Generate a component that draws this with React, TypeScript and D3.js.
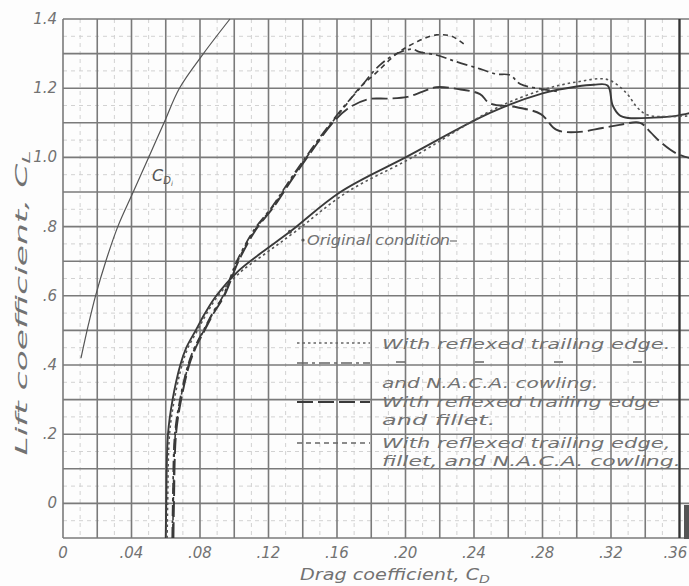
import React from "react";
import * as d3 from "d3";

// drag coefficient (CD) / lift coefficient (CL) pairs
const cdiCd = [0.0105, 0.015, 0.019, 0.025, 0.032, 0.041, 0.05, 0.059, 0.068, 0.082, 0.0975];
const cdiCl = [0.42, 0.52, 0.6, 0.7, 0.8, 0.9, 1.0, 1.1, 1.2, 1.3, 1.4];

const originalCd = [0.06, 0.0603, 0.0613, 0.064, 0.0685, 0.072, 0.0775, 0.083, 0.0895, 0.102, 0.116, 0.1325, 0.162, 0.2, 0.25, 0.28, 0.3, 0.31, 0.318, 0.321, 0.325, 0.33, 0.345, 0.358, 0.366];
const originalCl = [-0.1, 0.0, 0.2, 0.3, 0.4, 0.45, 0.5, 0.55, 0.6, 0.67, 0.725, 0.785, 0.9, 1.0, 1.13, 1.185, 1.205, 1.21, 1.208, 1.15, 1.122, 1.114, 1.115, 1.12, 1.128];

const reflexedCd = [0.0608, 0.0611, 0.0622, 0.065, 0.0695, 0.073, 0.0785, 0.084, 0.0905, 0.104, 0.119, 0.1355, 0.166, 0.204, 0.252, 0.28, 0.3, 0.318, 0.329, 0.335, 0.341, 0.355, 0.366];
const reflexedCl = [-0.1, 0.0, 0.2, 0.3, 0.4, 0.45, 0.5, 0.55, 0.6, 0.67, 0.725, 0.785, 0.9, 1.0, 1.14, 1.195, 1.218, 1.225, 1.186, 1.146, 1.123, 1.118, 1.12];

const cowlingCd = [0.0638, 0.0641, 0.0653, 0.0683, 0.073, 0.0768, 0.082, 0.0873, 0.0935, 0.1015, 0.1115, 0.1225, 0.1325, 0.1445, 0.1555, 0.1645, 0.1725, 0.185, 0.195, 0.204, 0.208, 0.218, 0.23, 0.2435, 0.253, 0.261, 0.267, 0.279, 0.29];
const cowlingCl = [-0.1, 0.0, 0.2, 0.3, 0.4, 0.45, 0.5, 0.55, 0.6, 0.7, 0.79, 0.86, 0.935, 1.02, 1.094, 1.15, 1.195, 1.267, 1.3, 1.313, 1.305, 1.296, 1.276, 1.256, 1.241, 1.238, 1.212, 1.198, 1.19];

const filletCd = [0.0645, 0.0648, 0.066, 0.069, 0.0737, 0.0775, 0.0827, 0.088, 0.0942, 0.1025, 0.1125, 0.1235, 0.1335, 0.1455, 0.1565, 0.166, 0.178, 0.19, 0.201, 0.21, 0.218, 0.23, 0.2435, 0.249, 0.265, 0.279, 0.288, 0.3, 0.315, 0.325, 0.337, 0.343, 0.349, 0.358, 0.366];
const filletCl = [-0.1, 0.0, 0.2, 0.3, 0.4, 0.45, 0.5, 0.55, 0.6, 0.7, 0.79, 0.86, 0.935, 1.02, 1.094, 1.14, 1.168, 1.17, 1.175, 1.19, 1.203, 1.198, 1.183, 1.157, 1.145, 1.125, 1.08, 1.073, 1.085, 1.094, 1.1, 1.073, 1.044, 1.012, 0.998];

const bothCd = [0.0641, 0.0644, 0.0656, 0.0686, 0.0733, 0.0771, 0.0823, 0.0876, 0.0938, 0.102, 0.112, 0.123, 0.133, 0.145, 0.156, 0.165, 0.173, 0.183, 0.195, 0.207, 0.218, 0.227, 0.234];
const bothCl = [-0.1, 0.0, 0.2, 0.3, 0.4, 0.45, 0.5, 0.55, 0.6, 0.7, 0.79, 0.86, 0.935, 1.02, 1.094, 1.15, 1.2, 1.245, 1.3, 1.335, 1.354, 1.35, 1.328];

const xTicks = [0, 0.04, 0.08, 0.12, 0.16, 0.2, 0.24, 0.28, 0.32, 0.36];
const xTickLabels = ["0", ".04", ".08", ".12", ".16", ".20", ".24", ".28", ".32", ".36"];
const yTicks = [0, 0.2, 0.4, 0.6, 0.8, 1.0, 1.2, 1.4];
const yTickLabels = ["0", ".2", ".4", ".6", ".8", "1.0", "1.2", "1.4"];

const legendLines = [
  ["With reflexed trailing edge."],
  ["and N.A.C.A. cowling."],
  ["With reflexed trailing edge", "and fillet."],
  ["With reflexed trailing edge,", "fillet, and N.A.C.A. cowling."],
];

const W = 689;
const H = 586;
const ink = "#3a3a3a";
const gridInk = "#7a7a7a";
const textInk = "#727272";
const font = "'DejaVu Sans', sans-serif";

export default function App() {
  const x = d3.scaleLinear().domain([0, 0.36]).range([63, 679.5]);
  const y = d3.scaleLinear().domain([-0.1, 1.4]).range([538, 19]);
  const xMax = 0.3655;

  const line = d3
    .line<[number, number]>()
    .x((d) => x(d[0]))
    .y((d) => y(d[1]))
    .curve(d3.curveCatmullRom.alpha(0.5));

  const pts = (cd: number[], cl: number[]) => cd.map((v, i) => [v, cl[i]] as [number, number]);

  const curves = [
    { d: pts(cdiCd, cdiCl), dash: "", w: 1.2, c: "#555" },
    { d: pts(originalCd, originalCl), dash: "", w: 1.9, c: ink },
    { d: pts(reflexedCd, reflexedCl), dash: "2.5 3", w: 1.6, c: "#555" },
    { d: pts(cowlingCd, cowlingCl), dash: "11 4 3 4", w: 1.7, c: ink },
    { d: pts(filletCd, filletCl), dash: "16 5", w: 1.9, c: ink },
    { d: pts(bothCd, bothCl), dash: "5 4", w: 1.6, c: ink },
  ];

  const minorX = d3.range(0, 37).map((i) => i * 0.01).filter((v) => Math.round(v * 100) % 2 === 1);
  const majorX = d3.range(0, 19).map((i) => i * 0.02);
  const majorY = d3.range(0, 16).map((i) => -0.1 + i * 0.1);
  const minorY = d3.range(0, 15).map((i) => -0.05 + i * 0.1);

  const legendRows = [343, 363, 402, 443];
  const legendDash = ["2.5 3", "11 4 3 4", "16 5", "5 4"];
  const textRows = [[349], [388], [407, 425], [448, 466]];

  return (
    <svg width={W} height={H} style={{ position: "absolute", left: 0, top: 0, background: "#fdfdfd" }}>
      {/* minor grid */}
      <g stroke="#d2d2d2" strokeWidth={1} strokeDasharray="4 4">
        {minorX.map((v) => (
          <line key={"mx" + v} x1={x(v)} x2={x(v)} y1={y(1.4)} y2={y(-0.1)} />
        ))}
        {minorY.map((v) => (
          <line key={"my" + v} x1={x(0)} x2={x(xMax)} y1={y(v)} y2={y(v)} />
        ))}
      </g>
      {/* major grid */}
      <g stroke={gridInk} strokeWidth={1.6}>
        {majorX.map((v) => (
          <line key={"gx" + v} x1={x(v)} x2={x(v)} y1={y(1.4)} y2={y(-0.1)} />
        ))}
        {majorY.map((v) => (
          <line key={"gy" + v} x1={x(0)} x2={W} y1={y(v)} y2={y(v)} />
        ))}
      </g>
      <line x1={x(0.36)} x2={x(0.36)} y1={y(1.4)} y2={y(-0.1)} stroke="#333" strokeWidth={2.2} />
      <rect x={684} y={505} width={5} height={34} fill="#555" />

      {/* curves */}
      {curves.map((c, i) => (
        <path key={i} d={line(c.d) || ""} fill="none" stroke={c.c} strokeWidth={c.w} strokeDasharray={c.dash} />
      ))}

      {/* tick labels */}
      <g fontFamily={font} fontStyle="italic" fontSize={15} fill={textInk}>
        {xTicks.map((v, i) => (
          <text key={"xt" + v} x={i === xTicks.length - 1 ? x(v) - 4 : x(v)} y={558} textAnchor="middle">
            {xTickLabels[i]}
          </text>
        ))}
        {yTicks.map((v, i) => (
          <text key={"yt" + v} x={57} y={y(v) + 5} textAnchor="end">
            {yTickLabels[i]}
          </text>
        ))}
      </g>

      {/* axis titles */}
      <text x={395} y={580} textAnchor="middle" fontFamily={font} fontStyle="italic" fontSize={15} fill={textInk} textLength={190} lengthAdjust="spacingAndGlyphs">
        Drag coefficient, C<tspan fontSize={11} dy={3}>D</tspan>
      </text>
      <text
        transform="translate(27,303) rotate(-90)"
        textAnchor="middle"
        fontFamily={font}
        fontStyle="italic"
        fontSize={16}
        fill={textInk}
        textLength={305}
        lengthAdjust="spacingAndGlyphs"
      >
        Lift coefficient, C<tspan fontSize={11} dy={3}>L</tspan>
      </text>

      {/* annotations */}
      <text x={152} y={181} fontFamily={font} fontStyle="italic" fontSize={16} fill="#555">
        C<tspan fontSize={10} dy={3}>D</tspan>
        <tspan fontSize={7} dy={2}>i</tspan>
      </text>
      <circle cx={x(0.1325)} cy={y(0.785)} r={2} fill="#444" />
      <circle cx={303} cy={240} r={1.6} fill="#555" />
      <text x={307} y={245} fontFamily={font} fontStyle="italic" fontSize={14} fill={textInk} textLength={143} lengthAdjust="spacingAndGlyphs">
        Original condition
      </text>
      <line x1={450} x2={457} y1={241} y2={241} stroke={textInk} strokeWidth={1.2} />

      {/* legend */}
      {legendRows.map((ly, i) => (
        <line key={"ls" + i} x1={297} x2={370} y1={ly} y2={ly} stroke={i === 2 ? ink : "#666"} strokeWidth={i === 2 ? 2.2 : 1.5} strokeDasharray={legendDash[i]} />
      ))}
      <line x1={396} x2={660} y1={362} y2={362} stroke="#666" strokeWidth={1.6} strokeDasharray="9 70" />
      <g fontFamily={font} fontStyle="italic" fontSize={14.5} fill={textInk}>
        {legendLines.map((rows, i) =>
          rows.map((t, j) => (
            <text
              key={"lt" + i + j}
              x={382}
              y={textRows[i][j]}
              textLength={t.length * 10.3}
              lengthAdjust="spacingAndGlyphs"
            >
              {t}
            </text>
          ))
        )}
      </g>
    </svg>
  );
}
